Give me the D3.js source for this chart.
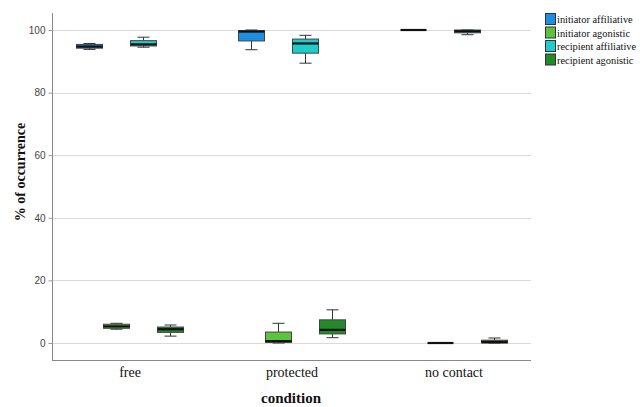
<!DOCTYPE html>
<html>
<head>
<meta charset="utf-8">
<script src="https://cdn.jsdelivr.net/npm/d3@7"></script>
<style>
  body { margin: 0; background: #fff; }
  svg { display: block; }
</style>
</head>
<body>
<svg id="chart" width="640" height="407"></svg>
<script>
// Conditions on the x axis and the four behaviour series
const conditions = ["free", "protected", "no contact"];
const seriesNames = ["initiator affiliative", "initiator agonistic", "recipient affiliative", "recipient agonistic"];
const seriesColors = ["#1d8fe3", "#5cc43c", "#1ecccc", "#238a2a"];
const yTicks = [0, 20, 40, 60, 80, 100];

// Five-number summaries [min, q1, median, q3, max] per condition, one array per series
const initiatorAffiliative = [
  [93.8, 94.2, 94.7, 95.4, 95.7],
  [93.7, 96.5, 99.5, 99.8, 100],
  [100, 100, 100, 100, 100]
];
const initiatorAgonistic = [
  [4.4, 4.7, 5.3, 6.0, 6.3],
  [0.0, 0.2, 0.6, 3.5, 6.3],
  [0, 0, 0, 0, 0]
];
const recipientAffiliative = [
  [94.5, 94.9, 95.4, 96.6, 97.7],
  [89.4, 92.6, 95.7, 97.1, 98.3],
  [98.5, 99.1, 99.6, 100, 100]
];
const recipientAgonistic = [
  [2.2, 3.4, 4.4, 5.1, 5.75],
  [1.7, 2.9, 4.2, 7.4, 10.6],
  [0.0, 0.0, 0.3, 0.9, 1.6]
];
const seriesData = [initiatorAffiliative, initiatorAgonistic, recipientAffiliative, recipientAgonistic];

const svg = d3.select("#chart");
const plot = { left: 52, right: 531, top: 13, bottom: 360 };

const x = d3.scaleBand().domain(conditions).range([49, 535]).paddingInner(0).paddingOuter(0);
const xSub = d3.scaleBand().domain(seriesNames).range([-54, 54]).padding(0);
const y = d3.scaleLinear().domain([-5.43, 105.43]).range([plot.bottom, plot.top]);

// Gridlines
svg.append("g").selectAll("line").data(yTicks).join("line")
  .attr("x1", plot.left).attr("x2", plot.right)
  .attr("y1", d => Math.round(y(d)) + 0.5).attr("y2", d => Math.round(y(d)) + 0.5)
  .attr("stroke", "#d9d9d9").attr("stroke-width", 1.2);

// Y axis
const yAxis = svg.append("g").attr("transform", `translate(${plot.left + 0.5},0)`)
  .call(d3.axisLeft(y).tickValues(yTicks).tickSize(4).tickPadding(3).tickFormat(d3.format("d")));
yAxis.select(".domain").attr("d", `M0,${plot.top}V${plot.bottom}`).attr("stroke", "#888");
yAxis.selectAll(".tick line").attr("stroke", "#999");
yAxis.selectAll(".tick text").attr("fill", "#444").style("font-family", "Liberation Sans, Arial, sans-serif").style("font-size", "10px");

// X axis
const xAxis = svg.append("g").attr("transform", `translate(0,${plot.bottom + 0.5})`)
  .call(d3.axisBottom(x).tickSize(0).tickPadding(7));
xAxis.select(".domain").attr("d", `M${plot.left},0H${plot.right}`).attr("stroke", "#888");
xAxis.selectAll(".tick text").attr("fill", "#111").style("font-family", "Liberation Serif, Times New Roman, serif").style("font-size", "14px");

// Axis titles
svg.append("text").attr("x", 291).attr("y", 403).attr("text-anchor", "middle")
  .style("font-family", "Liberation Serif, Times New Roman, serif").style("font-size", "15px").style("font-weight", "bold")
  .attr("fill", "#111").text("condition");
svg.append("text").attr("transform", "translate(25,172) rotate(-90)").attr("text-anchor", "middle")
  .style("font-family", "Liberation Serif, Times New Roman, serif").style("font-size", "14px").style("font-weight", "bold")
  .attr("fill", "#111").text("% of occurrence");

// Boxes
const boxes = [];
seriesData.forEach((arr, si) => {
  arr.forEach((s, ci) => {
    boxes.push({ series: seriesNames[si], color: seriesColors[si], cond: conditions[ci],
      min: s[0], q1: s[1], med: s[2], q3: s[3], max: s[4] });
  });
});

const bw = xSub.bandwidth();
const capW = 12;
const g = svg.append("g").selectAll("g").data(boxes).join("g")
  .attr("transform", d => `translate(${x(d.cond) + x.bandwidth() / 2 + xSub(d.series)},0)`);

// whiskers
g.append("line").attr("x1", bw / 2).attr("x2", bw / 2)
  .attr("y1", d => y(d.max)).attr("y2", d => y(d.q3)).attr("stroke", "#333");
g.append("line").attr("x1", bw / 2).attr("x2", bw / 2)
  .attr("y1", d => y(d.q1)).attr("y2", d => y(d.min)).attr("stroke", "#333");
g.append("line").attr("x1", bw / 2 - capW / 2).attr("x2", bw / 2 + capW / 2)
  .attr("y1", d => y(d.max)).attr("y2", d => y(d.max)).attr("stroke", "#333");
g.append("line").attr("x1", bw / 2 - capW / 2).attr("x2", bw / 2 + capW / 2)
  .attr("y1", d => y(d.min)).attr("y2", d => y(d.min)).attr("stroke", "#333");
// box
g.append("rect").attr("x", 0.5).attr("width", bw - 1)
  .attr("y", d => y(d.q3)).attr("height", d => Math.max(0, y(d.q1) - y(d.q3)))
  .attr("fill", d => d.color).attr("stroke", "#444").attr("stroke-width", 1);
// median
g.append("line").attr("x1", 0.5).attr("x2", bw - 0.5)
  .attr("y1", d => y(d.med)).attr("y2", d => y(d.med))
  .attr("stroke", "#111").attr("stroke-width", 2.2);

// Legend
const legend = svg.append("g").attr("transform", "translate(545,13)");
const li = legend.selectAll("g").data(seriesNames).join("g")
  .attr("transform", (d, i) => `translate(0,${i * 13.5})`);
li.append("rect").attr("x", 0.5).attr("y", 0.5).attr("width", 10).attr("height", 11)
  .attr("fill", (d, i) => seriesColors[i]).attr("stroke", "#333");
li.append("text").attr("x", 12).attr("y", 10)
  .style("font-family", "Liberation Serif, Times New Roman, serif").style("font-size", "10.4px")
  .attr("fill", "#111").text(d => d);
</script>
</body>
</html>
